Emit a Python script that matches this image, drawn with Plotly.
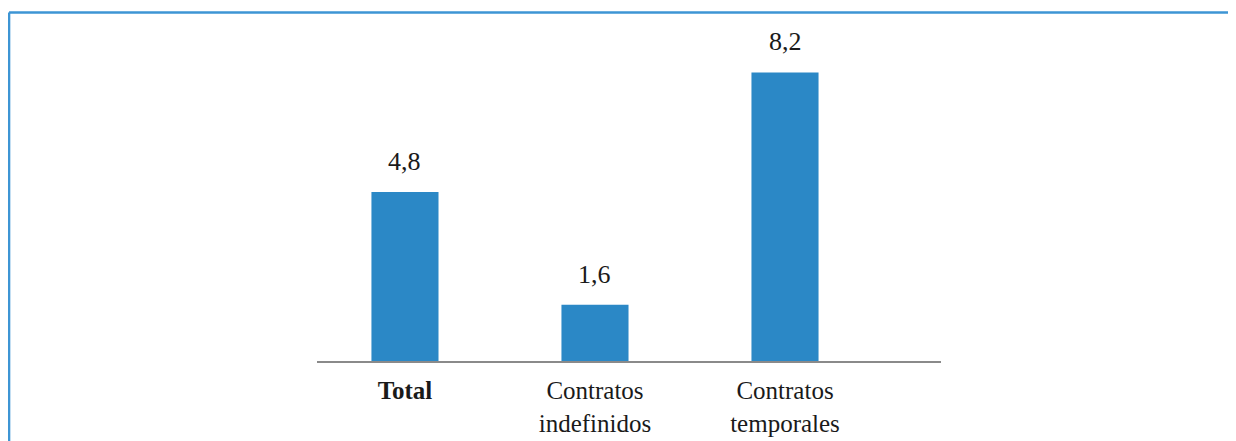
import plotly.graph_objects as go

categorias = ['<b>Total</b>', 'Contratos<br>indefinidos', 'Contratos<br>temporales']
valores = [4.8, 1.6, 8.2]
etiquetas = ['4,8', '1,6', '8,2']

azul_barra = '#2b88c6'
azul_marco = '#3d95d4'
fuente = 'Liberation Serif, serif'

fig = go.Figure()
fig.add_trace(go.Bar(
    x=categorias, y=valores,
    marker=dict(color=azul_barra, line=dict(width=0)),
    width=0.353, hoverinfo='skip', showlegend=False
))

# etiquetas de valor sobre las barras
for cat, val, txt in zip(categorias, valores, etiquetas):
    fig.add_annotation(x=cat, y=val, text=txt, showarrow=False,
                       yanchor='bottom', yshift=14,
                       font=dict(family=fuente, size=26, color='#1a1a1a'))

# marco azul (arriba e izquierda)
fig.add_shape(type='line', xref='paper', yref='paper',
              x0=-0.4935, x1=1.5, y0=1.022, y1=1.022,
              line=dict(color=azul_marco, width=2.5))
fig.add_shape(type='line', xref='paper', yref='paper',
              x0=-0.4935, x1=-0.4935, y0=1.022, y1=-0.28,
              line=dict(color=azul_marco, width=2.5))

# la página añade 8px de margen, por eso se descuentan aquí
fig.update_layout(
    width=1236, height=441,
    margin=dict(l=309, r=303, t=12, b=88),
    paper_bgcolor='white', plot_bgcolor='white',
    font=dict(family=fuente, size=25, color='#1a1a1a'),
)
fig.update_xaxes(range=[-0.463, 2.821], showline=True, linecolor='#8a8a8a', linewidth=2,
                 ticks='', showgrid=False, ticklabelstandoff=6)
fig.update_yaxes(range=[0, 9.69], visible=False)

fig.write_html('out.html')
